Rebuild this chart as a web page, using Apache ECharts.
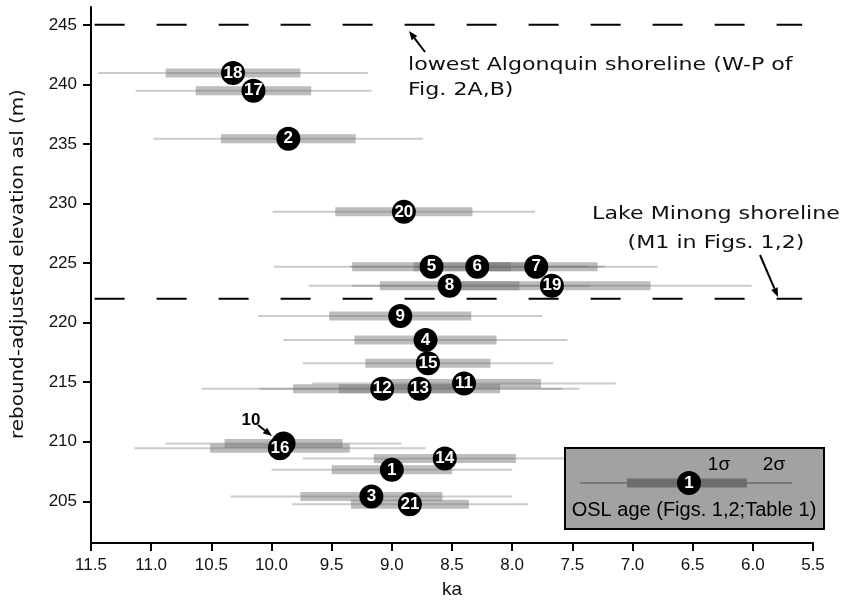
<!DOCTYPE html>
<html>
<head>
<meta charset="utf-8">
<script src="https://cdn.jsdelivr.net/npm/echarts@6/dist/echarts.min.js"></script>
<style>html,body{margin:0;padding:0;background:#fff}#main{width:841px;height:604px}</style>
</head>
<body>
<div id="main"></div>
<script>
var chartDom = document.getElementById('main');
var myChart = echarts.init(chartDom);
var option;

// OSL samples (draw order matters: 18 under 17, 10 under 16)
var sampleIds = [2, 18, 17, 20, 5, 6, 7, 8, 19, 9, 4, 15, 12, 13, 11, 10, 16, 14, 1, 3, 21];
var ageKa     = [9.86, 10.32, 10.15, 8.90, 8.67, 8.29, 7.80, 8.52, 7.67, 8.93, 8.72, 8.70, 9.08, 8.77, 8.40, 9.90, 9.93, 8.56, 9.00, 9.17, 8.85];
var elevation = [235.44, 240.95, 239.47, 229.3, 224.7, 224.7, 224.7, 223.1, 223.1, 220.55, 218.55, 216.6, 214.45, 214.45, 214.9, 209.85, 209.45, 208.6, 207.64, 205.4, 204.75];
var sigma1    = [0.56, 0.56, 0.48, 0.57, 0.66, 0.53, 0.51, 0.58, 0.82, 0.59, 0.59, 0.52, 0.74, 0.67, 0.64, 0.49, 0.58, 0.59, 0.50, 0.59, 0.49];
var sigma2    = [1.12, 1.12, 0.98, 1.09, 1.31, 1.06, 1.01, 1.17, 1.66, 1.18, 1.18, 1.04, 1.50, 1.33, 1.26, 0.98, 1.21, 1.18, 1.00, 1.17, 0.98];
// sample whose marker is hidden under another one (labelled with an arrow instead)
var hiddenId = 10;

// shorelines: elevation and the ka span of the dashed line
var shorelineElev = [245, 222];
var shorelineFrom = 11.47;
var shorelineTo = 5.59;

var yTicks = [205, 210, 215, 220, 225, 230, 235, 240, 245];

var barData = [];
var dotData = [];
for (var i = 0; i < sampleIds.length; i++) {
    barData.push([ageKa[i], elevation[i], sigma1[i], sigma2[i]]);
    dotData.push({
        value: [ageKa[i], elevation[i], sampleIds[i]],
        label: { show: sampleIds[i] !== hiddenId }
    });
}

var FONT = 'Liberation Sans, Arial, sans-serif';
var WIDE = 'DejaVu Sans, sans-serif';

function renderBar(params, api) {
    var age = api.value(0), elev = api.value(1), s1 = api.value(2), s2 = api.value(3);
    var a = api.coord([age + s2, elev]);
    var b = api.coord([age - s2, elev]);
    var c = api.coord([age + s1, elev]);
    var d = api.coord([age - s1, elev]);
    return {
        type: 'group',
        children: [{
            type: 'line',
            shape: { x1: a[0], y1: a[1], x2: b[0], y2: b[1] },
            style: { stroke: 'rgba(110,110,110,0.36)', lineWidth: 2 }
        }, {
            type: 'rect',
            shape: { x: Math.min(c[0], d[0]), y: c[1] - 4.5, width: Math.abs(d[0] - c[0]), height: 9 },
            style: { fill: 'rgba(115,115,115,0.47)' }
        }]
    };
}

function arrow(x1, y1, x2, y2) {
    var ang = Math.atan2(y2 - y1, x2 - x1);
    var L = 9, W = 3.5;
    var bx = x2 - L * Math.cos(ang), by = y2 - L * Math.sin(ang);
    var px = -Math.sin(ang) * W, py = Math.cos(ang) * W;
    return [{
        type: 'line',
        shape: { x1: x1, y1: y1, x2: bx, y2: by },
        style: { stroke: '#000', lineWidth: 2 }
    }, {
        type: 'polygon',
        shape: { points: [[x2, y2], [bx + px, by + py], [bx - px, by - py]] },
        style: { fill: '#000' }
    }];
}

var shoreSeries = shorelineElev.map(function (e) {
    return {
        type: 'line',
        data: [[shorelineFrom, e], [shorelineTo, e]],
        symbol: 'none',
        silent: true,
        z: 1,
        lineStyle: { color: '#000', width: 2, type: [30, 32] }
    };
});

var graphics = []
    .concat(arrow(425, 52, 409, 31))
    .concat(arrow(760, 255, 778, 297))
    .concat(arrow(258, 425, 272, 436))
    .concat([
        // y axis title (tracked look: stretched along the text)
        {
            type: 'text',
            x: 19, y: 264, rotation: Math.PI / 2, scaleX: 1.17,
            style: { x: 0, y: 0, text: 'rebound-adjusted elevation asl (m)', font: '17px ' + WIDE, fill: '#111', align: 'center', verticalAlign: 'middle' }
        },
        {
            type: 'text',
            x: 408, y: 53, scaleX: 1.23,
            style: { x: 0, y: 0, text: 'lowest Algonquin shoreline (W-P of\nFig. 2A,B)', font: '18px ' + WIDE, lineHeight: 25, fill: '#111' }
        },
        {
            type: 'text',
            x: 716, y: 200, scaleX: 1.23,
            style: { x: 0, y: 0, text: 'Lake Minong shoreline\n(M1 in Figs. 1,2)', font: '18px ' + WIDE, lineHeight: 29, fill: '#111', align: 'center' }
        },
        {
            type: 'text',
            style: { x: 251, y: 420, text: '10', font: 'bold 17px ' + FONT, fill: '#000', align: 'center', verticalAlign: 'middle' }
        },
        // legend box
        {
            type: 'rect',
            shape: { x: 565, y: 448, width: 259, height: 81 },
            style: { fill: '#a2a2a2', stroke: '#000', lineWidth: 2 },
            z: 10
        },
        {
            type: 'line',
            shape: { x1: 580, y1: 483, x2: 792, y2: 483 },
            style: { stroke: '#777', lineWidth: 2 },
            z: 11
        },
        {
            type: 'rect',
            shape: { x: 627, y: 478.5, width: 120, height: 9 },
            style: { fill: '#6e6e6e' },
            z: 11
        },
        {
            type: 'circle',
            shape: { cx: 689, cy: 483, r: 12 },
            style: { fill: '#000' },
            z: 12
        },
        {
            type: 'text',
            style: { x: 689, y: 483, text: '1', font: 'bold 17px ' + FONT, fill: '#fff', align: 'center', verticalAlign: 'middle' },
            z: 13
        },
        {
            type: 'text',
            style: { x: 719, y: 465, text: '1σ', font: '19px ' + FONT, fill: '#000', align: 'center', verticalAlign: 'middle' },
            z: 12
        },
        {
            type: 'text',
            style: { x: 774, y: 465, text: '2σ', font: '19px ' + FONT, fill: '#000', align: 'center', verticalAlign: 'middle' },
            z: 12
        },
        {
            type: 'text',
            style: { x: 694, y: 510, text: 'OSL age (Figs. 1,2;Table 1)', font: '20px ' + FONT, fill: '#000', align: 'center', verticalAlign: 'middle' },
            z: 12
        }
    ]);

option = {
    animation: false,
    backgroundColor: '#fff',
    grid: { left: 91, right: 28, top: 7, bottom: 61, outerBoundsMode: 'none' },
    xAxis: {
        type: 'value',
        inverse: true,
        min: 5.5,
        max: 11.5,
        interval: 0.5,
        name: 'ka',
        nameLocation: 'middle',
        nameGap: 37,
        nameTextStyle: { fontSize: 19, color: '#111', fontFamily: FONT },
        axisLine: { lineStyle: { color: '#000', width: 2 } },
        axisTick: { length: 8, lineStyle: { color: '#000', width: 2 } },
        axisLabel: {
            margin: 14, fontSize: 17, color: '#111', fontFamily: FONT,
            formatter: function (v) { return v.toFixed(1); }
        },
        splitLine: { show: false }
    },
    yAxis: {
        type: 'value',
        min: 201.5,
        max: 246.5,
        axisLine: { show: true, lineStyle: { color: '#000', width: 2 } },
        axisTick: { show: true, length: 8, customValues: yTicks, lineStyle: { color: '#000', width: 2 } },
        axisLabel: { margin: 14, fontSize: 17, color: '#111', fontFamily: FONT, customValues: yTicks },
        splitLine: { show: false }
    },
    graphic: graphics,
    series: shoreSeries.concat([
        {
            type: 'custom',
            renderItem: renderBar,
            data: barData,
            encode: { x: 0, y: 1 },
            silent: true,
            z: 2
        },
        {
            type: 'scatter',
            data: dotData,
            symbolSize: 24,
            silent: true,
            z: 3,
            itemStyle: { color: '#000', opacity: 1 },
            label: {
                show: true,
                position: 'inside',
                formatter: function (p) { return p.value[2]; },
                color: '#fff',
                fontWeight: 'bold',
                fontSize: 17,
                fontFamily: 'Liberation Sans Narrow, Liberation Sans, Arial, sans-serif'
            }
        }
    ])
};

option && myChart.setOption(option);
</script>
</body>
</html>
